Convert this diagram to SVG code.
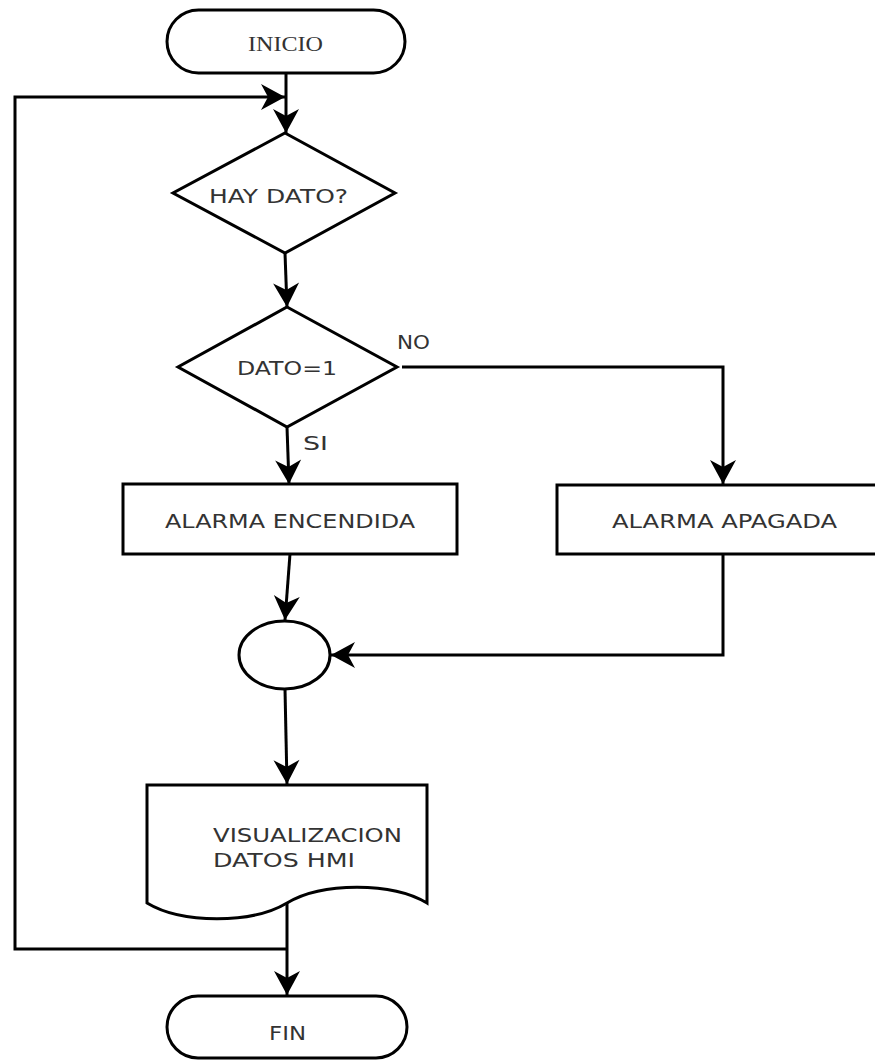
<svg xmlns="http://www.w3.org/2000/svg" width="875" height="1064" viewBox="0 0 875 1064">
<style>
.shape{fill:#fff;stroke:#000;stroke-width:3}
.conn{fill:none;stroke:#000;stroke-width:3}
.t{font-family:"DejaVu Sans",Verdana,sans-serif;font-size:19px;fill:#333}
.ts{font-family:"Liberation Serif","DejaVu Serif",serif;font-size:21px;fill:#333}
</style>
<defs>
<marker id="arr" markerUnits="userSpaceOnUse" viewBox="-25 -14 26 28" refX="0" refY="0" markerWidth="26" markerHeight="28" orient="auto">
<path d="M0,0 L-24,-13 L-17,0 L-24,13 Z" fill="#000"/>
</marker>
</defs>
<rect width="875" height="1064" fill="#fff"/>
<g id="connectors">
<line class="conn" x1="286" y1="74" x2="286" y2="133" marker-end="url(#arr)"/>
<polyline class="conn" points="287,949 15,949 15,97 285,97" marker-end="url(#arr)"/>
<line class="conn" x1="285" y1="253" x2="287" y2="307" marker-end="url(#arr)"/>
<line class="conn" x1="287" y1="427" x2="289" y2="484" marker-end="url(#arr)"/>
<polyline class="conn" points="402,367 723,367 723,484" marker-end="url(#arr)"/>
<line class="conn" x1="290" y1="554" x2="285" y2="620" marker-end="url(#arr)"/>
<polyline class="conn" points="723,554 723,655 331,655" marker-end="url(#arr)"/>
<line class="conn" x1="285" y1="689" x2="287" y2="784" marker-end="url(#arr)"/>
<line class="conn" x1="287" y1="903" x2="287" y2="995" marker-end="url(#arr)"/>
<text class="t" x="397" y="349" textLength="33" lengthAdjust="spacingAndGlyphs">NO</text>
<text class="t" x="303" y="450" textLength="25" lengthAdjust="spacingAndGlyphs">SI</text>
</g>
<g id="inicio">
<rect class="shape" x="167" y="10" width="238" height="63" rx="31.5"/>
<text class="ts" x="248" y="51" textLength="75" lengthAdjust="spacingAndGlyphs">INICIO</text>
</g>
<g id="hay-dato">
<polygon class="shape" points="285,133 395,193 285,253 173,193"/>
<text class="t" x="209" y="203" textLength="139" lengthAdjust="spacingAndGlyphs">HAY DATO?</text>
</g>
<g id="dato1">
<polygon class="shape" points="287,307 397,367 287,427 178,367"/>
<text class="t" x="237" y="375" textLength="100" lengthAdjust="spacingAndGlyphs">DATO=1</text>
</g>
<g id="alarma-encendida">
<rect class="shape" x="123" y="484" width="334" height="70"/>
<text class="t" x="165" y="528" textLength="250" lengthAdjust="spacingAndGlyphs">ALARMA ENCENDIDA</text>
</g>
<g id="alarma-apagada">
<rect class="shape" x="557" y="485" width="332" height="69"/>
<text class="t" x="612" y="528" textLength="225" lengthAdjust="spacingAndGlyphs">ALARMA APAGADA</text>
</g>
<g id="union">
<ellipse class="shape" cx="284.5" cy="655" rx="45.5" ry="34"/>
</g>
<g id="visualizacion">
<path class="shape" d="M147,785 L427,785 L427,903 C392,882 322,882 287,903 C252,924 182,924 147,903 Z"/>
<text class="t" x="213" y="842" textLength="189" lengthAdjust="spacingAndGlyphs">VISUALIZACION</text>
<text class="t" x="213" y="867" textLength="142" lengthAdjust="spacingAndGlyphs">DATOS HMI</text>
</g>
<g id="fin">
<rect class="shape" x="167" y="996" width="240" height="62" rx="31"/>
<text class="t" x="269" y="1040" textLength="37" lengthAdjust="spacingAndGlyphs">FIN</text>
</g>
</svg>
